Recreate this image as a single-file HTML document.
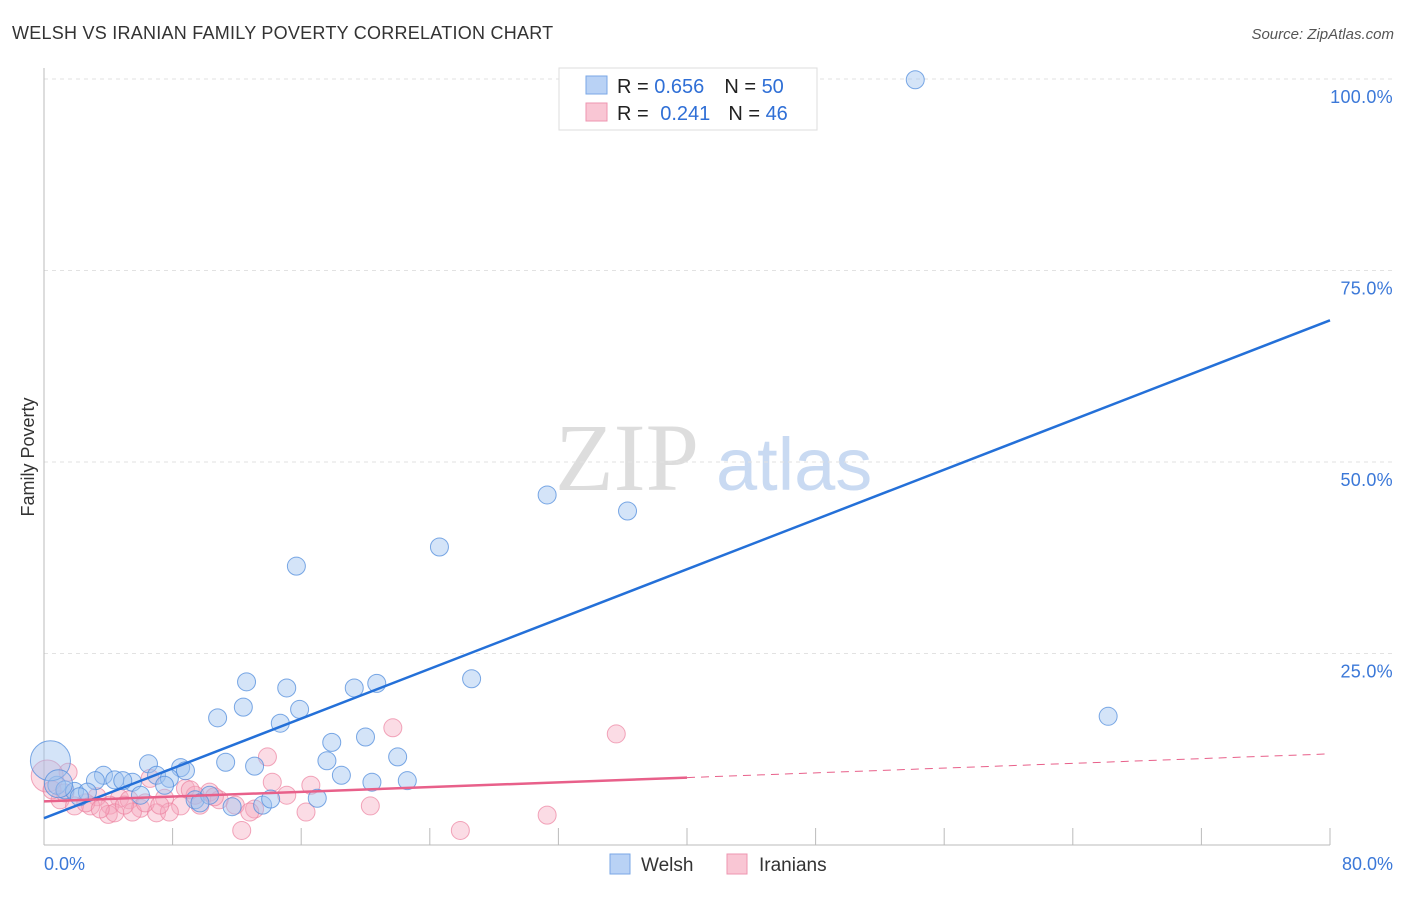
<!DOCTYPE html>
<html><head><meta charset="utf-8"><style>
body{margin:0;background:#fff;font-family:"Liberation Sans",sans-serif;}
</style></head><body>
<svg id="chart" width="1406" height="892" xmlns="http://www.w3.org/2000/svg">
<text x="12" y="39" font-size="18" fill="#333" letter-spacing="0.25">WELSH VS IRANIAN FAMILY POVERTY CORRELATION CHART</text>
<text x="1394" y="39" font-size="15" fill="#555" font-style="italic" text-anchor="end">Source: ZipAtlas.com</text>
<text x="555" y="490" font-size="96" fill="#ddd" font-family="Liberation Serif,serif">ZIP</text>
<text x="716" y="490" font-size="74" fill="#c9daf2">atlas</text>
<text transform="translate(34,457) rotate(-90)" font-size="18" fill="#333" text-anchor="middle">Family Poverty</text>
<g id="grid"></g><g id="axes"></g><g id="pts"></g><g id="lines"></g>
<g>
<rect x="559" y="68" width="258" height="62" fill="#fff" stroke="#ddd"/>
<rect x="586" y="76" width="21" height="18" fill="#b9d2f5" stroke="#7aa7e6"/>
<rect x="586" y="103" width="21" height="18" fill="#f9c6d4" stroke="#ee95b0"/>
<text x="617" y="93" font-size="20" fill="#222">R = <tspan fill="#2f6fd6">0.656</tspan><tspan dx="20">N = </tspan><tspan fill="#2f6fd6">50</tspan></text>
<text x="617" y="120" font-size="20" fill="#222">R = <tspan fill="#2f6fd6" dx="6">0.241</tspan><tspan dx="18">N = </tspan><tspan fill="#2f6fd6">46</tspan></text>
</g>
<g>
<rect x="610" y="854" width="20" height="20" fill="#b9d2f5" stroke="#7aa7e6"/>
<text x="641" y="871" font-size="19" fill="#333">Welsh</text>
<rect x="727" y="854" width="20" height="20" fill="#f9c6d4" stroke="#ee95b0"/>
<text x="759" y="871" font-size="19" fill="#333">Iranians</text>
</g>
</svg>
<script>
const welshX=[54.2,31.3,36.3,24.6,15.7,26.6,12.6,15.1,19.3,20.7,12.4,15.9,10.8,14.7,66.2,17.9,20.0,22.0,6.5,8.5,8.8,11.3,13.1,17.6,18.5,20.4,22.6,3.7,3.2,4.4,5.5,4.9,7.0,7.8,7.5,6.0,0.8,1.3,1.9,2.7,2.2,9.4,10.3,9.7,11.7,13.6,14.1,17.0,0.4,0.9];
const welshY=[99.9,45.7,43.6,38.9,36.4,21.7,21.3,20.5,20.5,21.1,18.0,17.7,16.6,15.9,16.8,13.4,14.1,11.5,10.6,10.1,9.7,10.8,10.3,11.0,9.1,8.2,8.4,9.1,8.4,8.5,8.2,8.4,9.1,8.7,7.8,6.5,7.8,7.2,7.0,6.9,6.3,5.9,6.5,5.5,5.0,5.2,6.0,6.1,11.0,8.0];
const welshBig=[48,49];
const iranX=[21.7,35.6,13.9,1.5,6.6,14.2,16.6,8.8,10.3,15.1,3.3,4.7,1.0,5.3,7.5,10.9,4.1,1.9,2.9,6.0,8.5,9.7,20.3,5.5,4.0,7.0,4.4,7.8,13.1,16.3,31.3,12.3,25.9,0.2,1.3,2.6,6.3,9.4,11.9,12.8,0.5,3.5,5.0,7.2,9.1,10.6];
const iranY=[15.3,14.5,11.5,9.5,8.7,8.2,7.8,7.4,6.9,6.5,6.3,6.1,5.9,5.9,6.1,5.9,5.2,5.1,5.1,4.8,5.1,5.2,5.1,4.3,4.0,4.2,4.2,4.3,4.7,4.3,3.9,1.9,1.9,9.0,6.8,5.5,5.5,6.5,5.2,4.3,7.2,4.7,5.2,5.2,7.2,6.3];
const iranBig=[33];
const welshTrend=[3.5,68.5];
const iranTrend=[5.7,11.9];
const yTicks=[25,50,75,100];
const yTickLabels=["25.0%","50.0%","75.0%","100.0%"];
const xTicks=[0,8,16,24,32,40,48,56,64,72,80];
const NS="http://www.w3.org/2000/svg";
const X=v=>44+v/80*1286;
const Y=v=>845-v/100*766;
function mk(tag,attrs,parent){const e=document.createElementNS(NS,tag);for(const k in attrs)e.setAttribute(k,attrs[k]);document.getElementById(parent).appendChild(e);return e;}
yTicks.forEach((t,i)=>{
 const l=mk('line',{x1:44,x2:1394,y1:Y(t),y2:Y(t),stroke:'#e2e2e2','stroke-dasharray':'4,4'},'grid');
 
 
 const tx=mk('text',{x:1393,y:Y(t)+24,'font-size':18,fill:'#3b78d8','text-anchor':'end','letter-spacing':'0.3'},'grid');
 tx.textContent=yTickLabels[i];
 
 
});
const ya=mk('line',{x1:44,x2:44,y1:68,y2:845,stroke:'#bbb'},'axes');


const xa=mk('line',{x1:44,x2:1330,y1:845,y2:845,stroke:'#bbb'},'axes');


xTicks.forEach(t=>{
 const l=mk('line',{x1:X(t),x2:X(t),y1:828,y2:845,stroke:'#bbb'},'axes');
 
 
});
const xl0=mk('text',{x:44,y:870,'font-size':18,fill:'#3b78d8'},'axes');xl0.textContent="0.0%";


const xl1=mk('text',{x:1393,y:870,'font-size':18,fill:'#3b78d8','text-anchor':'end'},'axes');xl1.textContent="80.0%";


iranX.forEach((v,i)=>{
 const c=mk('circle',{cx:X(v),cy:Y(iranY[i]),r:iranBig.includes(i)?16:9,fill:'rgba(246,168,190,0.4)',stroke:'rgba(236,130,160,0.7)','stroke-width':1},'pts');
 
 
});
welshX.forEach((v,i)=>{
 const r=i===48?20:(i===49?14:9);
 const c=mk('circle',{cx:X(v),cy:Y(welshY[i]),r:r,fill:'rgba(160,195,240,0.45)',stroke:'rgba(80,140,220,0.75)','stroke-width':1},'pts');
 
 
});
const wl=mk('line',{x1:X(0),y1:Y(welshTrend[0]),x2:X(80),y2:Y(welshTrend[1]),stroke:'#2470d8','stroke-width':2.5},'lines');


const mid=iranTrend[0]+(iranTrend[1]-iranTrend[0])*0.5;
const il=mk('line',{x1:X(0),y1:Y(iranTrend[0]),x2:X(40),y2:Y(mid),stroke:'#e8608a','stroke-width':2.5},'lines');


const id=mk('line',{x1:X(40),y1:Y(mid),x2:X(80),y2:Y(iranTrend[1]),stroke:'#e8608a','stroke-width':1,'stroke-dasharray':'8,6'},'lines');


</script>
</body></html>
